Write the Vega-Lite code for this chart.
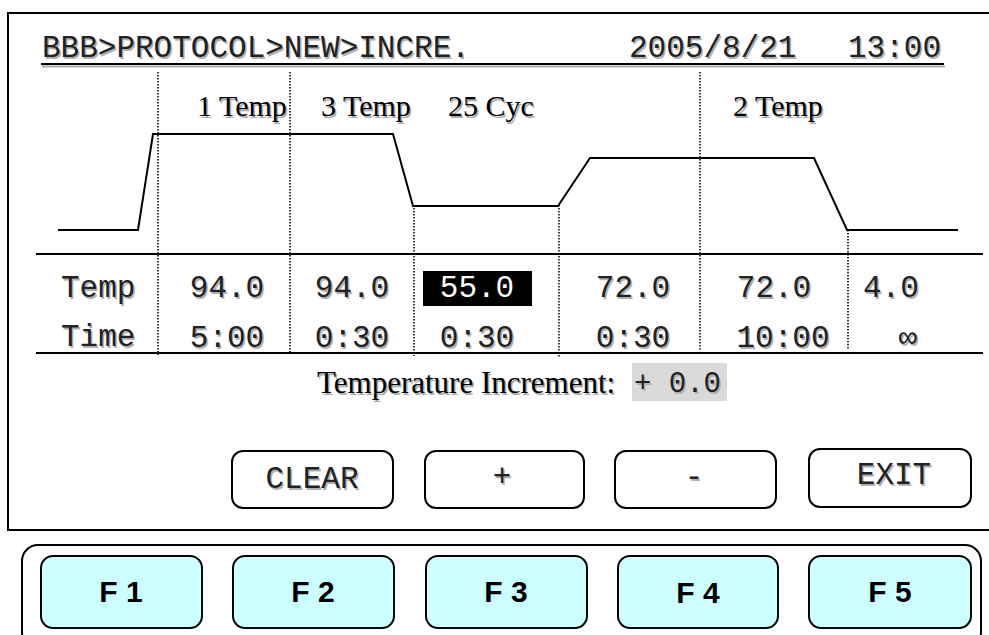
{
  "$schema": "https://vega.github.io/schema/vega-lite/v6.json",
  "width": 989,
  "height": 635,
  "padding": 0,
  "autosize": {"type": "fit", "contains": "padding"},
  "background": "white",
  "config": {"view": {"stroke": null}},
  "encoding": {
    "x": {"field": "x", "type": "quantitative", "scale": {"domain": [0, 989], "nice": false, "zero": false}, "axis": null},
    "y": {"field": "y", "type": "quantitative", "scale": {"domain": [0, 635], "nice": false, "zero": false, "reverse": true}, "axis": null}
  },
  "layer": [
    {
      "data": {"values": [{"x": 8, "x2": 1010, "y": 13, "y2": 530}]},
      "mark": {"type": "rect", "fill": null, "stroke": "black", "strokeWidth": 2, "clip": true},
      "encoding": {"x2": {"field": "x2"}, "y2": {"field": "y2"}}
    },
    {
      "data": {"values": [{"x": 22, "x2": 981, "y": 545, "y2": 648}]},
      "mark": {"type": "rect", "fill": null, "stroke": "black", "strokeWidth": 2, "cornerRadius": 16, "clip": true},
      "encoding": {"x2": {"field": "x2"}, "y2": {"field": "y2"}}
    },
    {
      "data": {"values": [
        {"x": 41, "x2": 202, "y": 556, "y2": 628},
        {"x": 233, "x2": 394, "y": 556, "y2": 628},
        {"x": 426, "x2": 587, "y": 556, "y2": 628},
        {"x": 618, "x2": 778, "y": 556, "y2": 628},
        {"x": 809, "x2": 971, "y": 556, "y2": 628}
      ]},
      "mark": {"type": "rect", "fill": "#ccffff", "stroke": "black", "strokeWidth": 2, "cornerRadius": 12},
      "encoding": {"x2": {"field": "x2"}, "y2": {"field": "y2"}}
    },
    {
      "data": {"values": [
        {"x": 232, "x2": 393, "y": 451, "y2": 508},
        {"x": 425, "x2": 584, "y": 451, "y2": 508},
        {"x": 615, "x2": 776, "y": 451, "y2": 508},
        {"x": 809, "x2": 971, "y": 449, "y2": 507}
      ]},
      "mark": {"type": "rect", "fill": "white", "stroke": "black", "strokeWidth": 2, "cornerRadius": 11},
      "encoding": {"x2": {"field": "x2"}, "y2": {"field": "y2"}}
    },
    {
      "data": {"values": [{"x": 423, "x2": 532, "y": 271, "y2": 306}]},
      "mark": {"type": "rect", "fill": "black"},
      "encoding": {"x2": {"field": "x2"}, "y2": {"field": "y2"}}
    },
    {
      "data": {"values": [{"x": 632, "x2": 727, "y": 363, "y2": 401}]},
      "mark": {"type": "rect", "fill": "#d9d9d9"},
      "encoding": {"x2": {"field": "x2"}, "y2": {"field": "y2"}}
    },
    {
      "data": {"values": [{"x": 42, "x2": 945, "y": 66.5, "y2": 66.5}]},
      "mark": {"type": "rule", "stroke": "#aaaaaa", "strokeWidth": 2},
      "encoding": {"x2": {"field": "x2"}, "y2": {"field": "y2"}}
    },
    {
      "data": {"values": [
        {"x": 41, "x2": 944, "y": 64, "y2": 64},
        {"x": 36, "x2": 983, "y": 254, "y2": 254},
        {"x": 36, "x2": 983, "y": 353, "y2": 353}
      ]},
      "mark": {"type": "rule", "stroke": "black", "strokeWidth": 2},
      "encoding": {"x2": {"field": "x2"}, "y2": {"field": "y2"}}
    },
    {
      "data": {"values": [
        {"x": 158, "x2": 158, "y": 72, "y2": 355},
        {"x": 290, "x2": 290, "y": 72, "y2": 352},
        {"x": 414, "x2": 414, "y": 205, "y2": 356},
        {"x": 559, "x2": 559, "y": 205, "y2": 357},
        {"x": 700, "x2": 700, "y": 72, "y2": 350},
        {"x": 848, "x2": 848, "y": 230, "y2": 350}
      ]},
      "mark": {"type": "rule", "stroke": "black", "strokeWidth": 1.5, "strokeDash": [1.5, 1.5]},
      "encoding": {"x2": {"field": "x2"}, "y2": {"field": "y2"}}
    },
    {
      "data": {"values": [
        {"i": 0, "x": 58, "y": 230},
        {"i": 1, "x": 138, "y": 230},
        {"i": 2, "x": 153, "y": 134},
        {"i": 3, "x": 393, "y": 134},
        {"i": 4, "x": 413, "y": 206},
        {"i": 5, "x": 558, "y": 206},
        {"i": 6, "x": 590, "y": 158},
        {"i": 7, "x": 814, "y": 158},
        {"i": 8, "x": 847, "y": 230},
        {"i": 9, "x": 958, "y": 230}
      ]},
      "mark": {"type": "line", "stroke": "black", "strokeWidth": 2},
      "encoding": {"order": {"field": "i", "type": "quantitative"}}
    },
    {
      "data": {"values": [
        {"x": 42, "y": 57, "t": "BBB>PROTOCOL>NEW>INCRE."},
        {"x": 629, "y": 57, "t": "2005/8/21"},
        {"x": 848, "y": 57, "t": "13:00"},
        {"x": 61, "y": 297, "t": "Temp"},
        {"x": 61, "y": 346, "t": "Time"},
        {"x": 863, "y": 297, "t": "4.0"}
      ]},
      "layer": [
        {"mark": {"type": "text", "font": "Liberation Mono", "fontSize": 31, "align": "left", "baseline": "alphabetic", "color": "#b0b0b0", "dx": 1.5, "dy": 1.5}, "encoding": {"text": {"field": "t"}}},
        {"mark": {"type": "text", "font": "Liberation Mono", "fontSize": 31, "align": "left", "baseline": "alphabetic", "color": "#222222"}, "encoding": {"text": {"field": "t"}}}
      ]
    },
    {
      "data": {"values": [
        {"x": 227, "y": 297, "t": "94.0"},
        {"x": 352, "y": 297, "t": "94.0"},
        {"x": 633, "y": 297, "t": "72.0"},
        {"x": 774, "y": 297, "t": "72.0"},
        {"x": 227, "y": 347, "t": "5:00"},
        {"x": 352, "y": 347, "t": "0:30"},
        {"x": 477, "y": 347, "t": "0:30"},
        {"x": 633, "y": 347, "t": "0:30"},
        {"x": 783, "y": 347, "t": "10:00"},
        {"x": 908, "y": 347, "t": "∞"},
        {"x": 312, "y": 488, "t": "CLEAR"},
        {"x": 502, "y": 486, "t": "+"},
        {"x": 694, "y": 486, "t": "-"},
        {"x": 894, "y": 484, "t": "EXIT"}
      ]},
      "layer": [
        {"mark": {"type": "text", "font": "Liberation Mono", "fontSize": 31, "align": "center", "baseline": "alphabetic", "color": "#b0b0b0", "dx": 1.5, "dy": 1.5}, "encoding": {"text": {"field": "t"}}},
        {"mark": {"type": "text", "font": "Liberation Mono", "fontSize": 31, "align": "center", "baseline": "alphabetic", "color": "#222222"}, "encoding": {"text": {"field": "t"}}}
      ]
    },
    {
      "data": {"values": [{"x": 477, "y": 297, "t": "55.0"}]},
      "mark": {"type": "text", "font": "Liberation Mono", "fontSize": 31, "align": "center", "baseline": "alphabetic", "color": "white"},
      "encoding": {"text": {"field": "t"}}
    },
    {
      "data": {"values": [{"x": 634, "y": 392, "t": "+ 0.0"}]},
      "layer": [
        {"mark": {"type": "text", "font": "Liberation Mono", "fontSize": 29, "align": "left", "baseline": "alphabetic", "color": "#b0b0b0", "dx": 1.5, "dy": 1.5}, "encoding": {"text": {"field": "t"}}},
        {"mark": {"type": "text", "font": "Liberation Mono", "fontSize": 29, "align": "left", "baseline": "alphabetic", "color": "#222222"}, "encoding": {"text": {"field": "t"}}}
      ]
    },
    {
      "data": {"values": [
        {"x": 197, "y": 116, "t": "1 Temp"},
        {"x": 321, "y": 116, "t": "3 Temp"},
        {"x": 448, "y": 116, "t": "25 Cyc"},
        {"x": 733, "y": 116, "t": "2 Temp"}
      ]},
      "layer": [
        {"mark": {"type": "text", "font": "Liberation Serif", "fontSize": 30, "align": "left", "baseline": "alphabetic", "color": "#aaaaaa", "dx": 1.5, "dy": 1.5}, "encoding": {"text": {"field": "t"}}},
        {"mark": {"type": "text", "font": "Liberation Serif", "fontSize": 30, "align": "left", "baseline": "alphabetic", "color": "#000000"}, "encoding": {"text": {"field": "t"}}}
      ]
    },
    {
      "data": {"values": [
        {"x": 317, "y": 393, "t": "Temperature Increment:"}
      ]},
      "layer": [
        {"mark": {"type": "text", "font": "Liberation Serif", "fontSize": 31, "align": "left", "baseline": "alphabetic", "color": "#aaaaaa", "dx": 1.5, "dy": 1.5}, "encoding": {"text": {"field": "t"}}},
        {"mark": {"type": "text", "font": "Liberation Serif", "fontSize": 31, "align": "left", "baseline": "alphabetic", "color": "#000000"}, "encoding": {"text": {"field": "t"}}}
      ]
    },
    {
      "data": {"values": [
        {"x": 121, "y": 602, "t": "F 1"},
        {"x": 313, "y": 602, "t": "F 2"},
        {"x": 506, "y": 602, "t": "F 3"},
        {"x": 698, "y": 603, "t": "F 4"},
        {"x": 890, "y": 602, "t": "F 5"}
      ]},
      "mark": {"type": "text", "font": "Liberation Sans", "fontSize": 30, "fontWeight": "bold", "align": "center", "baseline": "alphabetic", "color": "#000000"},
      "encoding": {"text": {"field": "t"}}
    }
  ]
}
